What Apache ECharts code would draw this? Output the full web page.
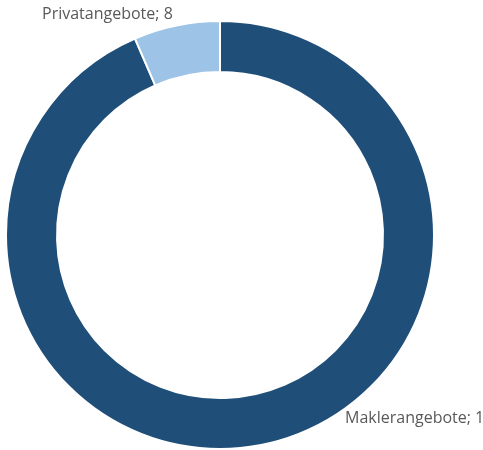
<!DOCTYPE html>
<html>
<head>
<meta charset="utf-8">
<script src="https://cdn.jsdelivr.net/npm/echarts@6/dist/echarts.min.js"></script>
<style>html,body{margin:0;padding:0;background:#fff}#c{width:483px;height:450px}</style>
</head>
<body>
<div id="c"></div>
<script>
const categories = ['Maklerangebote', 'Privatangebote'];
const values = [115, 8];
const colors = ['#1F4E79', '#9DC3E6'];
const labelAnchors = [[345, 418], [42, 14]];

const chart = echarts.init(document.getElementById('c'));
chart.setOption({
  animation: false,
  series: [{
    type: 'pie',
    center: [220, 235],
    radius: [163, 214],
    startAngle: 90,
    clockwise: true,
    itemStyle: { borderColor: '#fff', borderWidth: 2 },
    label: {
      show: true,
      formatter: '{b}; {c}',
      fontFamily: 'Open Sans',
      fontSize: 16,
      color: '#595959',
      overflow: 'none'
    },
    labelLine: { show: false },
    labelLayout: function (p) {
      const a = labelAnchors[p.dataIndex];
      return { x: a[0], y: a[1], align: 'left', verticalAlign: 'middle', width: 300 };
    },
    data: categories.map((n, i) => ({ name: n, value: values[i], itemStyle: { color: colors[i] } }))
  }]
});
</script>
</body>
</html>
